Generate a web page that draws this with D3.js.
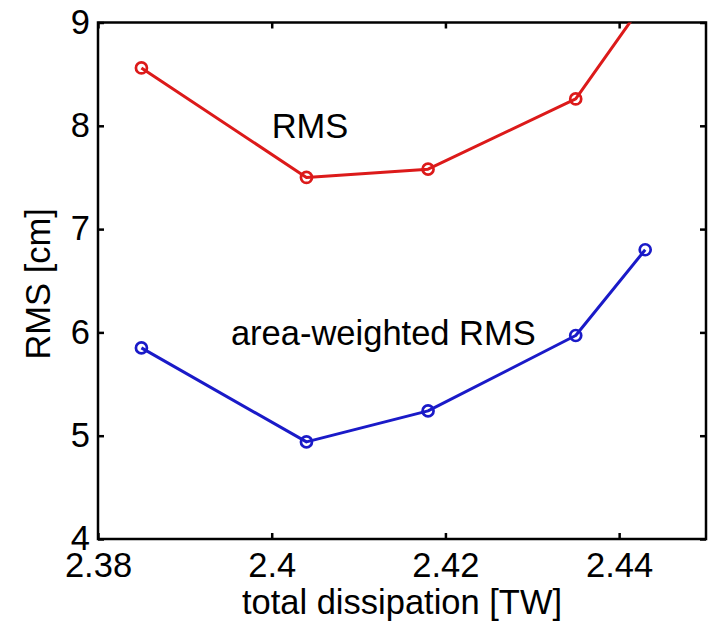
<!DOCTYPE html>
<html>
<head>
<meta charset="utf-8">
<script src="https://cdn.jsdelivr.net/npm/d3@7"></script>
<style>
  html, body { margin: 0; padding: 0; background: #fff; }
  svg text { font-family: "Liberation Sans", Arial, Helvetica, sans-serif; fill: #000; }
</style>
</head>
<body>
<svg id="chart" width="714" height="622"></svg>
<script>
// ---- data ----
const dissipation = [2.385, 2.404, 2.418, 2.435, 2.443];
const rmsValues = [8.56, 7.50, 7.58, 8.26, 9.21];
const areaWeightedRms = [5.85, 4.94, 5.24, 5.97, 6.80];
const xTicks = [2.38, 2.40, 2.42, 2.44];
const xTickLabels = ["2.38", "2.4", "2.42", "2.44"];
const yTicks = [4, 5, 6, 7, 8, 9];
const seriesNames = ["RMS", "area-weighted RMS"];
const labelX = [2.4, 2.3953];
const labelY = [8.0, 6.0];

// ---- layout ----
const svg = d3.select("#chart");
const mLeft = 98, mRight = 706, mTop = 22.5, mBottom = 539;
const x = d3.scaleLinear().domain([2.38, 2.45]).range([mLeft, mRight]);
const y = d3.scaleLinear().domain([4, 9]).range([mBottom, mTop]);
const fontSize = 34.5;
const tickLen = 6;

svg.append("defs").append("clipPath").attr("id", "plotclip")
  .append("rect").attr("x", mLeft).attr("y", mTop)
  .attr("width", mRight - mLeft).attr("height", mBottom - mTop);

// axes (ticks inside, on all four sides)
const axisStyle = g => {
  g.select(".domain").remove();
  g.selectAll(".tick line").attr("stroke", "#000").attr("stroke-width", 2.5);
};
svg.append("g").attr("transform", `translate(0,${mBottom})`)
  .call(d3.axisBottom(x).tickValues(xTicks).tickSize(-tickLen).tickFormat((d, i) => xTickLabels[i]))
  .call(axisStyle)
  .call(g => g.selectAll(".tick text").attr("font-size", fontSize).attr("dy", "0.71em").attr("y", 14));
svg.append("g").attr("transform", `translate(0,${mTop})`)
  .call(d3.axisTop(x).tickValues(xTicks).tickSize(-tickLen).tickFormat(""))
  .call(axisStyle);
svg.append("g").attr("transform", `translate(${mLeft},0)`)
  .call(d3.axisLeft(y).tickValues(yTicks).tickSize(-tickLen).tickFormat(d3.format("d")))
  .call(axisStyle)
  .call(g => g.selectAll(".tick text").attr("font-size", fontSize).attr("dy", "0.31em").attr("x", -8));
svg.append("g").attr("transform", `translate(${mRight},0)`)
  .call(d3.axisRight(y).tickValues(yTicks).tickSize(-tickLen).tickFormat(""))
  .call(axisStyle);

// box
svg.append("rect").attr("x", mLeft).attr("y", mTop)
  .attr("width", mRight - mLeft).attr("height", mBottom - mTop)
  .attr("fill", "none").attr("stroke", "#000").attr("stroke-width", 2.5);

// series
const series = [
  { values: rmsValues, color: "#dc1a1a" },
  { values: areaWeightedRms, color: "#1a1ac8" }
];
const line = d3.line().x(d => x(d[0])).y(d => y(d[1]));
const plot = svg.append("g").attr("clip-path", "url(#plotclip)");
series.forEach(s => {
  const pts = dissipation.map((d, i) => [d, s.values[i]]);
  plot.append("path").datum(pts).attr("d", line)
    .attr("fill", "none").attr("stroke", s.color).attr("stroke-width", 3)
    .attr("stroke-linejoin", "round");
  plot.selectAll(null).data(pts).enter().append("circle")
    .attr("cx", d => x(d[0])).attr("cy", d => y(d[1])).attr("r", 5.5)
    .attr("fill", "none").attr("stroke", s.color).attr("stroke-width", 2.7);
});

// in-plot labels
seriesNames.forEach((name, i) => {
  svg.append("text").attr("x", x(labelX[i])).attr("y", y(labelY[i]))
    .attr("dy", "0.36em").attr("font-size", fontSize).text(name);
});

// axis labels
svg.append("text").attr("x", 402).attr("y", 614)
  .attr("text-anchor", "middle").attr("font-size", fontSize).text("total dissipation [TW]");
svg.append("text").attr("transform", `translate(50,${y(6.47)}) rotate(-90)`)
  .attr("text-anchor", "middle").attr("font-size", fontSize).text("RMS [cm]");
</script>
</body>
</html>
